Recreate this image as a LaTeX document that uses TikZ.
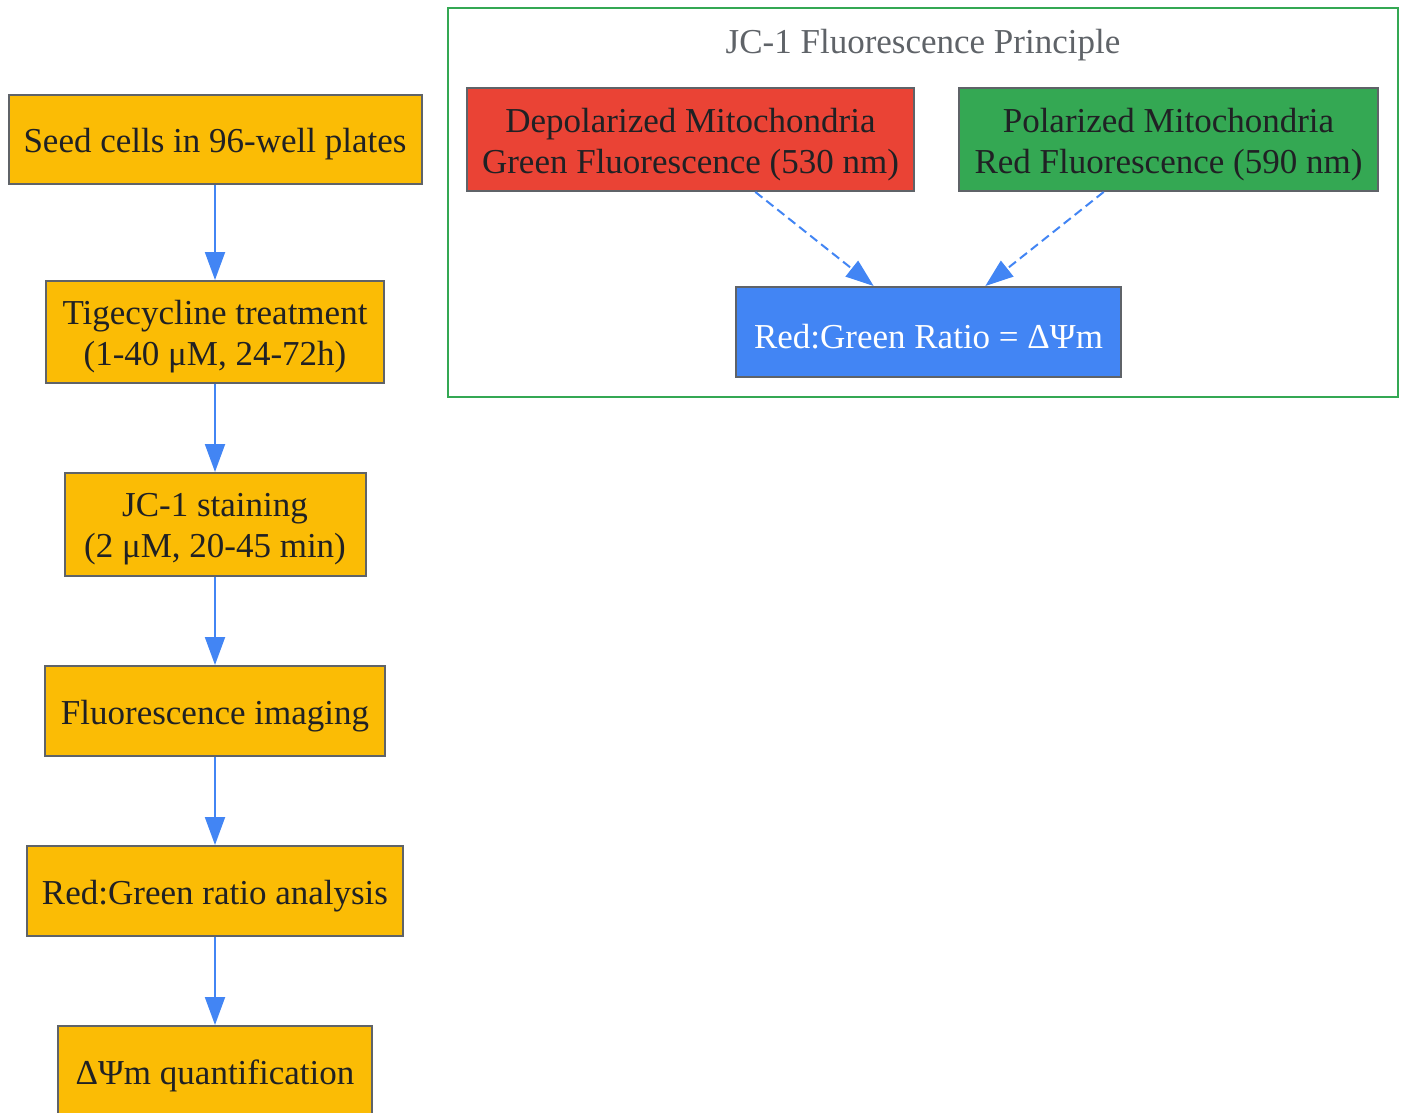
\documentclass[tikz,border=0pt]{standalone}
\usepackage{fontspec}
\setmainfont{Liberation Serif}
\usetikzlibrary{arrows.meta}
\definecolor{stepfill}{HTML}{FBBC05}
\definecolor{boxline}{HTML}{5F6368}
\definecolor{flowblue}{HTML}{4285F4}
\definecolor{gred}{HTML}{EA4335}
\definecolor{ggreen}{HTML}{34A853}
\definecolor{txtdark}{HTML}{202124}
% lower a line of text a little, keeping its size
\newcommand{\lowr}[1]{\raisebox{-5pt}[\height][\depth]{#1}}
\begin{document}
\begin{tikzpicture}[x=1pt, y=-1pt,
        stepbox/.style={draw=boxline, line width=2pt, fill=stepfill, text=txtdark,
          align=center, inner sep=0pt, font=\fontsize{35}{41}\selectfont},
        flow/.style={draw=flowblue, line width=2pt,
          -{Triangle[length=28pt, width=20pt]}, flowblue},
        dflow/.style={flow, dash pattern=on 9pt off 5pt}]
        	\useasboundingbox (0,0) rectangle (1403,1113);
        	% Workflow steps, left column:
        	\node[stepbox, minimum width=413pt, minimum height=89pt] (seed) at (215,139.5) {\lowr{Seed cells in 96-well plates}};
        	\node[stepbox, minimum width=338pt, minimum height=102pt] (tige) at (215,332) {\lowr{Tigecycline treatment}\\\lowr{(1-40 μM, 24-72h)}};
        	\node[stepbox, minimum width=301pt, minimum height=103pt] (stain) at (215,524.5) {\lowr{JC-1 staining}\\\lowr{(2 μM, 20-45 min)}};
        	\node[stepbox, minimum width=340pt, minimum height=90pt] (imag) at (215,711) {\lowr{Fluorescence imaging}};
        	\node[stepbox, minimum width=376pt, minimum height=90pt] (ratio) at (215,891) {\lowr{Red:Green ratio analysis}};
        	\node[stepbox, minimum width=314pt, minimum height=90pt] (quant) at (215,1071) {\lowr{ΔΨm quantification}};
        	\draw[flow] (seed) -- (tige);
        	\draw[flow] (tige) -- (stain);
        	\draw[flow] (stain) -- (imag);
        	\draw[flow] (imag) -- (ratio);
        	\draw[flow] (ratio) -- (quant);
        	% JC-1 principle cluster:
        	\draw[ggreen, line width=2pt] (448,8) rectangle (1398,397);
        	\node[text=boxline, font=\fontsize{35}{41}\selectfont] (title) at (923,40) {\lowr{JC-1 Fluorescence Principle}};
        	\node[stepbox, fill=gred, minimum width=447pt, minimum height=103pt] (depol) at (690.5,139.5) {\lowr{Depolarized Mitochondria}\\\lowr{Green Fluorescence (530 nm)}};
        	\node[stepbox, fill=ggreen, minimum width=419pt, minimum height=103pt] (pol) at (1168.5,139.5) {\lowr{Polarized Mitochondria}\\\lowr{Red Fluorescence (590 nm)}};
        	\node[stepbox, fill=flowblue, text=white, minimum width=385pt, minimum height=90pt] (rgratio) at (928.5,332) {\lowr{Red:Green Ratio = ΔΨm}};
        	\draw[dflow] (depol.-39.5) -- (rgratio.140.4);
        	\draw[dflow] (pol.-141) -- (rgratio.39.2);
        \end{tikzpicture}
\end{document}
